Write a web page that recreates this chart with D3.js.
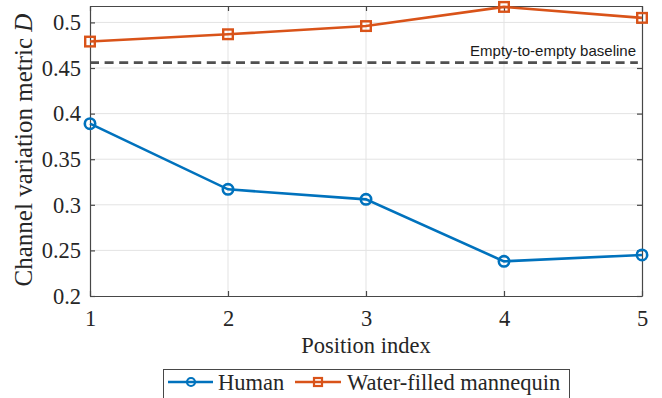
<!DOCTYPE html>
<html lang="en">
<head>
<meta charset="utf-8">
<title>channel variation</title>
<script src="https://cdn.jsdelivr.net/npm/d3@7"></script>
<style>
  * { margin:0; padding:0; }
  body { background:#fff; }
  svg text { font-family: "Liberation Serif", "Times New Roman", serif; fill:#262626; }
</style>
</head>
<body>
<svg id="chart" width="662" height="398"></svg>
<script>
// data
var positions = [1, 2, 3, 4, 5];
var human = [0.389, 0.317, 0.306, 0.238, 0.245];
var mannequin = [0.479, 0.487, 0.496, 0.517, 0.505];
var baseline = 0.456;
var yTicks = [0.2, 0.25, 0.3, 0.35, 0.4, 0.45, 0.5];
var yTickLabels = ["0.2", "0.25", "0.3", "0.35", "0.4", "0.45", "0.5"];
var seriesNames = ["Human", "Water-filled mannequin"];

var svg = d3.select("#chart");
var plotL = 90, plotR = 642, plotT = 6, plotB = 296;

var x = d3.scaleLinear().domain([1, 5]).range([plotL, plotR]);
var y = d3.scaleLinear().domain([0.2, 0.518]).range([plotB, plotT]);

var blue = "#0072BD", orange = "#D95319", axisCol = "#474747";
var serif = "'Liberation Serif', 'Times New Roman', serif";

// grid
svg.append("g").selectAll("line").data(positions.slice(1, 4)).join("line")
  .attr("x1", d => x(d)).attr("x2", d => x(d))
  .attr("y1", plotT).attr("y2", plotB)
  .style("stroke", "#e3e3e3").style("stroke-width", 1);
svg.append("g").selectAll("line").data(yTicks.slice(1)).join("line")
  .attr("x1", plotL).attr("x2", plotR)
  .attr("y1", d => y(d)).attr("y2", d => y(d))
  .style("stroke", "#e3e3e3").style("stroke-width", 1);

// baseline
svg.append("line")
  .attr("x1", x(1)).attr("x2", x(4.97))
  .attr("y1", y(baseline)).attr("y2", y(baseline))
  .style("stroke", "#505050").style("stroke-width", 2.8)
  .style("stroke-dasharray", "9,5.6");
svg.append("text")
  .attr("x", 636).attr("y", y(baseline) - 7)
  .attr("text-anchor", "end")
  .style("font-family", "'Liberation Sans', Arial, sans-serif")
  .style("font-size", "15px")
  .style("fill", "#1a1a1a")
  .text("Empty-to-empty baseline");

// axes box + ticks
var gx = svg.append("g").attr("transform", "translate(0," + plotB + ")")
  .call(d3.axisBottom(x).tickValues(positions).tickFormat(d3.format("d")).tickSizeInner(-5).tickSizeOuter(0).tickPadding(14));
var gxt = svg.append("g").attr("transform", "translate(0," + plotT + ")")
  .call(d3.axisTop(x).tickValues(positions).tickSizeInner(-5).tickSizeOuter(0).tickFormat(""));
var gy = svg.append("g").attr("transform", "translate(" + plotL + ",0)")
  .call(d3.axisLeft(y).tickValues(yTicks).tickFormat((d, i) => yTickLabels[i]).tickSizeInner(-5).tickSizeOuter(0).tickPadding(9));
var gyr = svg.append("g").attr("transform", "translate(" + plotR + ",0)")
  .call(d3.axisRight(y).tickValues(yTicks).tickSizeInner(-5).tickSizeOuter(0).tickFormat(""));
[gx, gxt, gy, gyr].forEach(function(g) {
  g.attr("font-family", null).attr("font-size", null);
  g.selectAll("path, line").style("stroke", axisCol).style("stroke-width", 1.2);
  g.selectAll("text").style("font-family", serif)
    .style("font-size", "22.5px").style("fill", "#262626");
});
gx.selectAll("text").attr("dy", "0.71em");

// series
var line = d3.line().x((d, i) => x(positions[i])).y(d => y(d));
svg.append("path").datum(human).attr("d", line)
  .style("fill", "none").style("stroke", blue).style("stroke-width", 2.6);
svg.append("path").datum(mannequin).attr("d", line)
  .style("fill", "none").style("stroke", orange).style("stroke-width", 2.6);

svg.append("g").selectAll("circle").data(human).join("circle")
  .attr("cx", (d, i) => x(positions[i])).attr("cy", d => y(d)).attr("r", 5.2)
  .style("fill", "none").style("stroke", blue).style("stroke-width", 2.6);
svg.append("g").selectAll("rect").data(mannequin).join("rect")
  .attr("x", (d, i) => x(positions[i]) - 4.8).attr("y", d => y(d) - 4.8)
  .attr("width", 9.6).attr("height", 9.6)
  .style("fill", "none").style("stroke", orange).style("stroke-width", 2.4);

// axis labels
svg.append("text")
  .attr("x", (plotL + plotR) / 2).attr("y", 353)
  .attr("text-anchor", "middle")
  .style("font-size", "22.5px")
  .text("Position index");
var yl = svg.append("text")
  .attr("transform", "translate(32,150) rotate(-90)")
  .attr("text-anchor", "middle")
  .style("font-size", "25px");
yl.append("tspan").text("Channel variation metric ");
yl.append("tspan").style("font-style", "italic").text("D");

// legend
var leg = svg.append("g");
leg.append("rect")
  .attr("x", 163.5).attr("y", 369.5).attr("width", 406).attr("height", 40)
  .style("fill", "#fff").style("stroke", axisCol).style("stroke-width", 1);
var ly = 382;
leg.append("line").attr("x1", 168).attr("x2", 213).attr("y1", ly).attr("y2", ly)
  .style("stroke", blue).style("stroke-width", 2.4);
leg.append("circle").attr("cx", 191).attr("cy", ly).attr("r", 4)
  .style("fill", "none").style("stroke", blue).style("stroke-width", 2.2);
leg.append("text").attr("x", 218).attr("y", ly + 8).style("font-size", "22.5px").text(seriesNames[0]);
leg.append("line").attr("x1", 295).attr("x2", 341).attr("y1", ly).attr("y2", ly)
  .style("stroke", orange).style("stroke-width", 2.4);
leg.append("rect").attr("x", 314).attr("y", ly - 4).attr("width", 8).attr("height", 8)
  .style("fill", "none").style("stroke", orange).style("stroke-width", 2.2);
leg.append("text").attr("x", 347).attr("y", ly + 8).style("font-size", "22.5px").text(seriesNames[1]);
</script>
</body>
</html>
